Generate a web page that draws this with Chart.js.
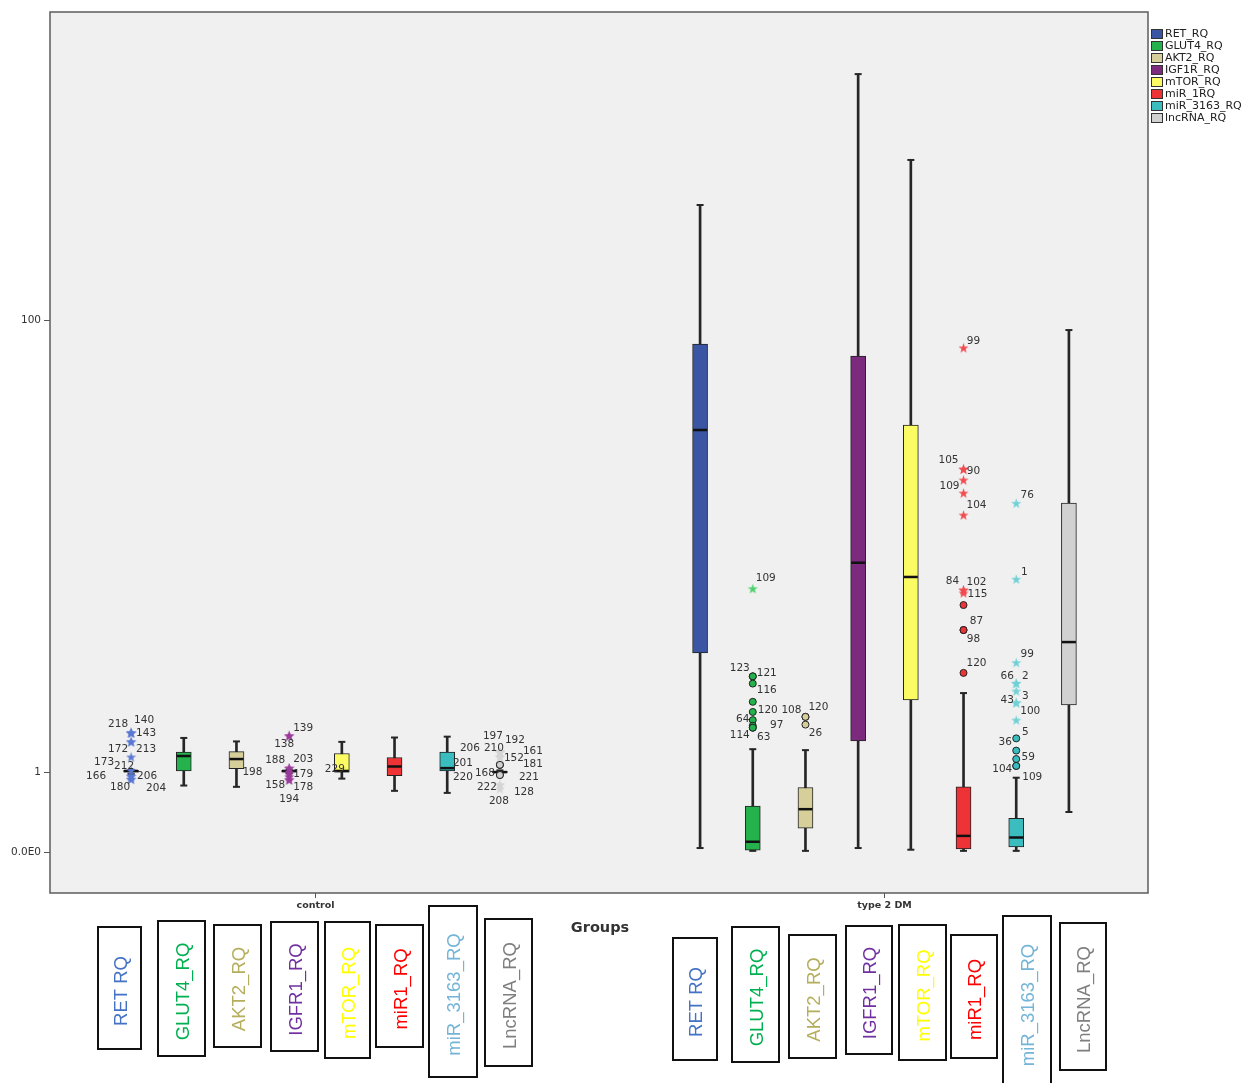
<!DOCTYPE html>
<html>
<head>
<meta charset="utf-8">
<script src="https://cdn.jsdelivr.net/npm/chart.js"></script>
<style>
  body { margin: 0; background: #fff; }
  canvas { display: block; }
</style>
</head>
<body>
<canvas id="myChart" width="1252" height="1083"></canvas>
<script>
// categories / series
const groups = ['control', 'type 2 DM'];
const series = ['RET_RQ', 'GLUT4_RQ', 'AKT2_RQ', 'IGF1R_RQ', 'mTOR_RQ', 'miR_1RQ', 'miR_3163_RQ', 'lncRNA_RQ'];

// box statistics, control group (one value per series)
const ctrlMin = [0.97, 0.78, 0.76, 0.98, 0.89, 0.70, 0.67, 0.97];
const ctrlQ1  = [1.00, 1.02, 1.06, 1.00, 1.00, 0.94, 1.02, 0.99];
const ctrlMed = [1.02, 1.30, 1.24, 1.02, 1.02, 1.10, 1.07, 1.00];
const ctrlQ3  = [1.03, 1.38, 1.39, 1.03, 1.35, 1.27, 1.38, 1.02];
const ctrlMax = [1.04, 1.69, 1.61, 1.04, 1.60, 1.70, 1.72, 1.03];

// box statistics, type 2 DM group
const t2Min = [0.035, 0.01, 0.01, 0.035, 0.02, 0.01, 0.01, 0.415];
const t2Q1  = [4.62, 0.017, 0.23, 1.62, 2.74, 0.026, 0.044, 2.58];
const t2Med = [37.9, 0.093, 0.45, 11.3, 9.87, 0.15, 0.134, 5.18];
const t2Q3  = [81.0, 0.49, 0.75, 72.9, 39.6, 0.76, 0.34, 19.65];
const t2Max = [273, 1.44, 1.42, 852, 404, 2.97, 0.905, 91.6];

// outliers: [group, series, value, marker, case label]
const outliers = [
  [0,0,1.81,'star','218'], [0,0,1.81,'star','140'], [0,0,1.81,'star','143'],
  [0,0,1.60,'star','172'], [0,0,1.60,'star','213'], [0,0,1.28,'star','173'],
  [0,0,1.03,'star','212'], [0,0,0.93,'star','166'], [0,0,0.93,'star','206'],
  [0,0,0.88,'star','180'], [0,0,0.88,'star','204'],
  [0,2,1.06,'none','198'],
  [0,3,1.74,'star','139'], [0,3,1.74,'star','138'], [0,3,1.07,'star','188'],
  [0,3,1.07,'star','203'], [0,3,1.00,'star',''], [0,3,0.97,'star','179'],
  [0,3,0.92,'star','158'], [0,3,0.87,'star','178'], [0,3,0.87,'star','194'],
  [0,4,1.01,'none','229'],
  [0,7,1.38,'star','197'], [0,7,1.38,'star','192'], [0,7,1.38,'star','210'],
  [0,7,1.38,'star','206'], [0,7,1.28,'star','161'], [0,7,1.28,'star','152'],
  [0,7,1.13,'circle','201'], [0,7,1.13,'circle','181'], [0,7,1.13,'circle','168'],
  [0,7,0.95,'circle','220'], [0,7,0.95,'circle','221'], [0,7,0.79,'star','222'],
  [0,7,0.79,'star','128'], [0,7,0.73,'star','208'],
  [1,1,8.82,'star','109'], [1,1,3.59,'circle','123'], [1,1,3.59,'circle','121'],
  [1,1,3.31,'circle','116'], [1,1,2.68,'circle',''], [1,1,2.37,'circle','120'],
  [1,1,2.14,'circle','64'], [1,1,1.99,'circle','97'], [1,1,1.94,'circle','114'],
  [1,1,1.94,'circle','63'],
  [1,2,2.23,'circle','108'], [1,2,2.23,'circle','120'], [1,2,2.02,'circle','26'],
  [1,5,78.3,'star','99'], [1,5,26.7,'star','105'], [1,5,26.7,'star','90'],
  [1,5,24.2,'star','109'], [1,5,21.5,'star',''], [1,5,17.6,'star','104'],
  [1,5,8.7,'star','84'], [1,5,8.7,'star','102'], [1,5,8.46,'star','115'],
  [1,5,7.52,'circle',''], [1,5,5.86,'circle','87'], [1,5,5.86,'circle','98'],
  [1,5,3.73,'circle','120'],
  [1,6,19.6,'star','76'], [1,6,9.66,'star','1'], [1,6,4.17,'star','99'],
  [1,6,3.32,'star','66'], [1,6,3.32,'star','2'], [1,6,3.04,'star','3'],
  [1,6,2.65,'star','43'], [1,6,2.65,'star','100'], [1,6,2.14,'star',''],
  [1,6,1.68,'circle','5'], [1,6,1.41,'circle','36'], [1,6,1.24,'circle','59'],
  [1,6,1.11,'circle','104'], [1,6,1.11,'circle','109']
];

// y axis ticks
const yTickValues = [0, 1, 100];
const yTickLabels = ['0.0E0', '1', '100'];

// --- layout / style (not data) ---
const boxColors = ['#3a55a4', '#25b24d', '#d7cf9a', '#7b2a7e', '#fbfb64', '#ee3337', '#3bbcbf', '#d1d1d1'];
const starColors = ['#5a78d2', '#4ccf6c', '#c9c08a', '#9a3b9c', '#f2f26a', '#f04b4f', '#6fd1d5', '#d5d5d5'];
const slot = 0.0926;
function xPos(g, s) { return g + (s - 3.5) * slot; }

// label offsets (px) from the point, keyed group-series-label
const labelNudge = {
  '0-0-218': [-13,-9], '0-0-140': [13,-13], '0-0-143': [15,0], '0-0-172': [-13,7], '0-0-213': [15,7],
  '0-0-173': [-27,5], '0-0-212': [-7,-4], '0-0-166': [-35,0], '0-0-206': [16,0], '0-0-180': [-11,8], '0-0-204': [25,9],
  '0-2-198': [16,4],
  '0-3-139': [14,-8], '0-3-138': [-5,8], '0-3-188': [-14,-8], '0-3-203': [14,-9], '0-3-179': [14,0],
  '0-3-158': [-14,8], '0-3-178': [14,7], '0-3-194': [0,19],
  '0-4-229': [-7,-2],
  '0-7-197': [-7,-16], '0-7-192': [15,-12], '0-7-210': [-6,-4], '0-7-206': [-30,-4], '0-7-161': [33,-6],
  '0-7-152': [14,1], '0-7-201': [-37,-2], '0-7-181': [33,-1], '0-7-168': [-15,8], '0-7-220': [-37,2],
  '0-7-221': [29,2], '0-7-222': [-13,2], '0-7-128': [24,7], '0-7-208': [-1,12],
  '1-1-109': [13,-10], '1-1-123': [-13,-8], '1-1-121': [14,-3], '1-1-116': [14,7], '1-1-120': [15,-2],
  '1-1-64': [-10,-1], '1-1-97': [24,0], '1-1-114': [-13,8], '1-1-63': [11,10],
  '1-2-108': [-14,-7], '1-2-120': [13,-10], '1-2-26': [10,9],
  '1-5-99': [10,-7], '1-5-105': [-15,-9], '1-5-90': [10,2], '1-5-109': [-14,6], '1-5-104': [13,-10],
  '1-5-84': [-11,-9], '1-5-102': [13,-8], '1-5-115': [14,1], '1-5-87': [13,-9], '1-5-98': [10,9], '1-5-120': [13,-10],
  '1-6-76': [11,-8], '1-6-1': [8,-7], '1-6-99': [11,-8], '1-6-66': [-9,-7], '1-6-2': [9,-7], '1-6-3': [9,5],
  '1-6-43': [-9,-3], '1-6-100': [14,8], '1-6-5': [9,-6], '1-6-36': [-11,-8], '1-6-59': [12,-2],
  '1-6-104': [-14,3], '1-6-109': [16,11]
};

// tag boxes under the axis: [x, y, w, h]
const tagNames = ['RET RQ', 'GLUT4_RQ', 'AKT2_RQ', 'IGFR1_RQ', 'mTOR_RQ', 'miR1_RQ', 'miR_3163_RQ', 'LncRNA_RQ'];
const tagColors = ['#4472c4', '#00b050', '#b5ae5c', '#7030a0', '#ffff00', '#ff0000', '#74b4d6', '#7f7f7f'];
const tagBoxes = [
  [98,927,43,122], [158,921,47,135], [214,925,47,122], [271,922,47,129],
  [325,922,45,136], [376,925,47,122], [429,906,48,171], [485,919,47,147],
  [673,938,44,122], [732,927,47,135], [789,935,47,123], [846,926,46,128],
  [899,925,47,135], [951,935,46,123], [1003,916,48,172], [1060,923,46,147]
];

// custom y scale: log10(v + 1)
class Log1pScale extends Chart.LinearScale {
  static id = 'log1p';
  static defaults = Chart.LinearScale.defaults;
  determineDataLimits() {
    this.min = this.options.min;
    this.max = this.options.max;
  }
  buildTicks() {
    return yTickValues.map(v => ({ value: v }));
  }
  configure() {
    super.configure();
    this._lmin = Math.log10(this.min + 1);
    this._lrange = Math.log10(this.max + 1) - this._lmin;
  }
  getPixelForValue(v) {
    return this.getPixelForDecimal((Math.log10(v + 1) - this._lmin) / this._lrange);
  }
  getValueForPixel(p) {
    return Math.pow(10, this._lmin + this.getDecimalForPixel(p) * this._lrange) - 1;
  }
}
Chart.register(Log1pScale);

function starImg(color) {
  const c = document.createElement('canvas');
  c.width = 11; c.height = 11;
  const g = c.getContext('2d');
  g.fillStyle = color;
  g.beginPath();
  for (let i = 0; i < 10; i++) {
    const r = i % 2 ? 2.1 : 5.3;
    const a = -Math.PI / 2 + i * Math.PI / 5;
    const x = 5.5 + r * Math.cos(a), y = 5.9 + r * Math.sin(a);
    if (i) g.lineTo(x, y); else g.moveTo(x, y);
  }
  g.closePath();
  g.fill();
  return c;
}

const stats = [
  [ctrlMin, ctrlQ1, ctrlMed, ctrlQ3, ctrlMax],
  [t2Min, t2Q1, t2Med, t2Q3, t2Max]
];

const datasets = [];
series.forEach((name, s) => {
  const boxes = [], whiskers = [], caps = [], meds = [];
  stats.forEach((st, g) => {
    const x = xPos(g, s);
    boxes.push({ x: x, y: [st[1][s], st[3][s]] });
    whiskers.push({ x: x, y: [st[0][s], st[4][s]] });
    caps.push({ x: x, y: st[0][s] }, { x: x, y: st[4][s] });
    meds.push({ x: x, y: st[2][s] });
  });
  datasets.push({
    type: 'bar', label: name, data: boxes, grouped: false, barThickness: 15,
    backgroundColor: boxColors[s], borderColor: '#222', borderWidth: 1, borderSkipped: false, order: 3
  });
  datasets.push({
    type: 'bar', label: name + ' whisker', data: whiskers, grouped: false, barThickness: 2,
    backgroundColor: '#262626', borderWidth: 0, order: 4
  });
  datasets.push({
    type: 'scatter', label: name + ' caps', data: caps, pointStyle: 'line', pointRadius: 3.5,
    pointBorderColor: '#262626', pointBorderWidth: 2, order: 2
  });
  datasets.push({
    type: 'scatter', label: name + ' median', data: meds, pointStyle: 'line', pointRadius: 7,
    pointBorderColor: '#111', pointBorderWidth: 2.5, order: 2
  });
  const starPts = outliers.filter(o => o[1] === s && o[3] === 'star').map(o => ({ x: xPos(o[0], s), y: o[2] }));
  const circPts = outliers.filter(o => o[1] === s && o[3] === 'circle').map(o => ({ x: xPos(o[0], s), y: o[2] }));
  if (starPts.length) datasets.push({
    type: 'scatter', label: name + ' extreme', data: starPts, pointStyle: starImg(starColors[s]), order: 1
  });
  if (circPts.length) datasets.push({
    type: 'scatter', label: name + ' outlier', data: circPts, pointStyle: 'circle', pointRadius: 3.5,
    pointBackgroundColor: boxColors[s], pointBorderColor: '#222', pointBorderWidth: 1, order: 1
  });
});

const decorPlugin = {
  id: 'decor',
  beforeDraw(chart) {
    const { ctx, chartArea: a } = chart;
    ctx.save();
    ctx.fillStyle = '#ffffff';
    ctx.fillRect(0, 0, chart.width, chart.height);
    ctx.fillStyle = '#f0f0f0';
    ctx.fillRect(a.left, a.top, a.right - a.left, a.bottom - a.top);
    ctx.restore();
  },
  afterDatasetsDraw(chart) {
    const { ctx, chartArea: a } = chart;
    const xs = chart.scales.x, ys = chart.scales.y;
    ctx.save();
    // outlier case labels
    ctx.font = '10.5px "DejaVu Sans"';
    ctx.fillStyle = '#333';
    ctx.textAlign = 'center';
    ctx.textBaseline = 'middle';
    outliers.forEach(o => {
      if (!o[4]) return;
      const n = labelNudge[o[0] + '-' + o[1] + '-' + o[4]] || [12, -6];
      ctx.fillText(o[4], xs.getPixelForValue(xPos(o[0], o[1])) + n[0], ys.getPixelForValue(o[2]) + n[1]);
    });
    // frame
    ctx.strokeStyle = '#5c5c5c';
    ctx.lineWidth = 1.5;
    ctx.strokeRect(a.left, a.top, a.right - a.left, a.bottom - a.top);
    ctx.restore();
  },
  afterDraw(chart) {
    const { ctx, chartArea: a } = chart;
    ctx.save();
    // legend
    ctx.font = '11px "DejaVu Sans"';
    ctx.textBaseline = 'middle';
    ctx.textAlign = 'left';
    series.forEach((name, s) => {
      const y = a.top + 22 + s * 12;
      ctx.fillStyle = boxColors[s];
      ctx.fillRect(a.right + 3.5, y - 4.5, 11, 9);
      ctx.strokeStyle = '#333';
      ctx.lineWidth = 1;
      ctx.strokeRect(a.right + 3.5, y - 4.5, 11, 9);
      ctx.fillStyle = '#222';
      ctx.fillText(name, a.right + 17, y + 0.5);
    });
    // axis title
    ctx.font = 'bold 14.5px "DejaVu Sans"';
    ctx.fillStyle = '#333';
    ctx.textAlign = 'center';
    ctx.fillText('Groups', 600, 928);
    // tag boxes
    tagBoxes.forEach((b, i) => {
      const k = i % 8;
      ctx.fillStyle = '#fff';
      ctx.fillRect(b[0], b[1], b[2], b[3]);
      ctx.strokeStyle = '#111';
      ctx.lineWidth = 2;
      ctx.strokeRect(b[0], b[1], b[2], b[3]);
      ctx.save();
      ctx.translate(b[0] + b[2] / 2 + 2, b[1] + b[3] / 2 + 3);
      ctx.rotate(-Math.PI / 2);
      ctx.font = '18.5px "Liberation Sans"';
      ctx.fillStyle = tagColors[k];
      ctx.textAlign = 'center';
      ctx.textBaseline = 'middle';
      ctx.fillText(tagNames[k], 0, 0);
      ctx.restore();
    });
    ctx.restore();
  }
};

new Chart(document.getElementById('myChart'), {
  type: 'bar',
  data: { datasets: datasets },
  options: {
    responsive: false,
    animation: false,
    events: [],
    layout: { padding: { left: 0, top: 12, right: 104, bottom: 168 } },
    plugins: { legend: { display: false }, tooltip: { enabled: false } },
    scales: {
      x: {
        type: 'linear',
        min: -0.4666,
        max: 1.4631,
        offset: false,
        afterFit: (sc) => { sc.height = 22; },
        afterBuildTicks: (sc) => { sc.ticks = groups.map((g, i) => ({ value: i })); },
        border: { display: false },
        grid: { display: true, drawOnChartArea: false, drawTicks: true, tickLength: 5, color: '#555', offset: false },
        ticks: {
          autoSkip: false, maxRotation: 0, padding: 2, color: '#333',
          font: { family: 'DejaVu Sans', size: 9.5, weight: 'bold' },
          callback: (v) => groups[v]
        }
      },
      y: {
        type: 'log1p',
        min: -0.2993,
        max: 1461,
        afterFit: (sc) => { sc.width = 50; },
        border: { display: false },
        grid: { display: true, drawOnChartArea: false, drawTicks: true, tickLength: 6, color: '#555' },
        ticks: {
          autoSkip: false, padding: 3, color: '#333',
          font: { family: 'DejaVu Sans', size: 10.5 },
          callback: (v) => yTickLabels[yTickValues.indexOf(v)]
        }
      }
    }
  },
  plugins: [decorPlugin]
});
</script>
</body>
</html>
